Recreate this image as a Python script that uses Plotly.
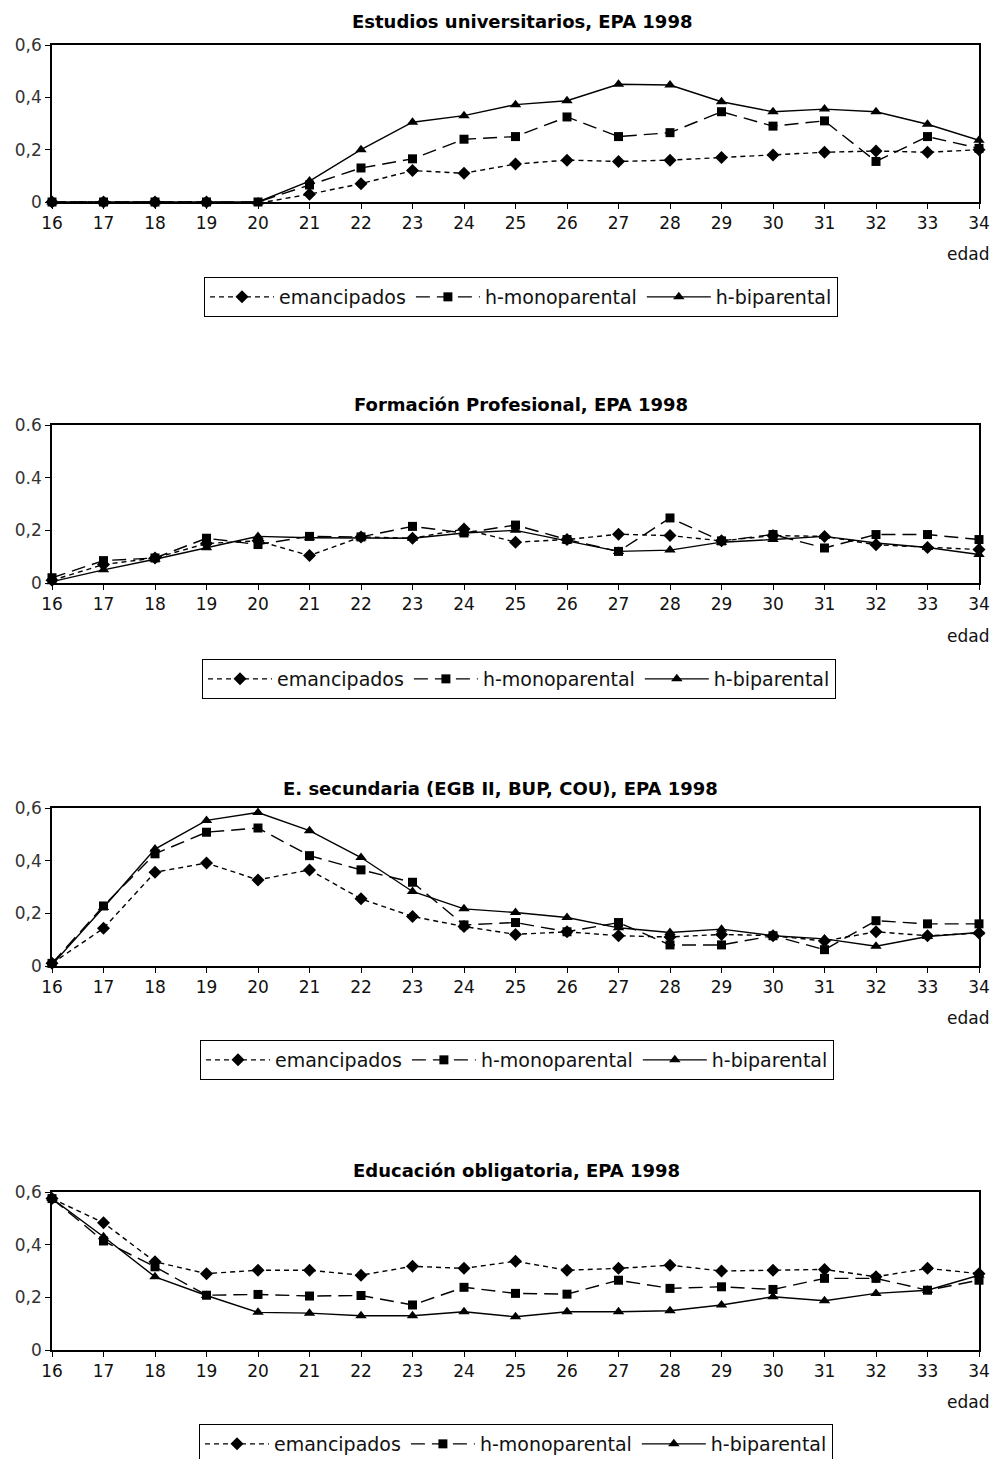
import plotly.graph_objects as go

# Edades (eje horizontal)
edades = list(range(16, 35))

series_nombres = ["emancipados", "h-monoparental", "h-biparental"]

titulos = [
    "Estudios universitarios, EPA 1998",
    "Formación Profesional, EPA 1998",
    "E. secundaria (EGB II, BUP, COU), EPA 1998",
    "Educación obligatoria, EPA 1998",
]

# Estudios universitarios
univ_emancipados = [0, 0, 0, 0, -0.005, 0.03, 0.07, 0.12, 0.11, 0.145, 0.16, 0.155, 0.16,
                    0.17, 0.18, 0.19, 0.195, 0.19, 0.20]
univ_monoparental = [0, 0, 0, 0, 0, 0.065, 0.13, 0.165, 0.24, 0.25, 0.325, 0.25, 0.265,
                     0.345, 0.29, 0.31, 0.155, 0.25, 0.205]
univ_biparental = [0, 0, 0, 0, 0, 0.08, 0.20, 0.305, 0.33, 0.372, 0.387, 0.45, 0.447,
                   0.383, 0.345, 0.355, 0.345, 0.297, 0.236]

# Formación Profesional
fp_emancipados = [0.01, 0.07, 0.095, 0.15, 0.16, 0.104, 0.175, 0.17, 0.205, 0.155, 0.165,
                  0.185, 0.18, 0.16, 0.18, 0.177, 0.145, 0.135, 0.127]
fp_monoparental = [0.02, 0.085, 0.095, 0.17, 0.146, 0.177, 0.175, 0.215, 0.19, 0.22, 0.165,
                   0.12, 0.247, 0.16, 0.184, 0.133, 0.184, 0.184, 0.165]
fp_biparental = [0.005, 0.05, 0.09, 0.134, 0.177, 0.172, 0.172, 0.17, 0.19, 0.2, 0.16,
                 0.12, 0.125, 0.155, 0.165, 0.177, 0.152, 0.135, 0.108]

# E. secundaria (EGB II, BUP, COU)
sec_emancipados = [0.01, 0.143, 0.356, 0.391, 0.327, 0.365, 0.255, 0.188, 0.15, 0.12,
                   0.13, 0.115, 0.11, 0.12, 0.115, 0.095, 0.13, 0.115, 0.125]
sec_monoparental = [0.01, 0.228, 0.426, 0.508, 0.524, 0.419, 0.365, 0.318, 0.156, 0.165,
                    0.13, 0.165, 0.08, 0.08, 0.115, 0.062, 0.172, 0.16, 0.16]
sec_biparental = [0.005, 0.222, 0.444, 0.553, 0.583, 0.514, 0.412, 0.283, 0.217, 0.203,
                  0.184, 0.145, 0.127, 0.14, 0.115, 0.103, 0.075, 0.112, 0.127]

# Educación obligatoria
obl_emancipados = [0.575, 0.483, 0.335, 0.29, 0.303, 0.303, 0.284, 0.318, 0.31, 0.337,
                   0.303, 0.31, 0.322, 0.3, 0.303, 0.306, 0.278, 0.31, 0.29]
obl_monoparental = [0.575, 0.414, 0.316, 0.208, 0.211, 0.205, 0.207, 0.171, 0.238, 0.215,
                    0.212, 0.265, 0.234, 0.24, 0.23, 0.272, 0.272, 0.227, 0.265]
obl_biparental = [0.575, 0.43, 0.278, 0.207, 0.143, 0.14, 0.13, 0.13, 0.145, 0.126,
                  0.145, 0.145, 0.149, 0.171, 0.202, 0.187, 0.215, 0.227, 0.284]

paneles = [
    (univ_emancipados, univ_monoparental, univ_biparental),
    (fp_emancipados, fp_monoparental, fp_biparental),
    (sec_emancipados, sec_monoparental, sec_biparental),
    (obl_emancipados, obl_monoparental, obl_biparental),
]

ytick_vals = [0, 0.2, 0.4, 0.6]
ytick_textos = [
    ["0", "0,2", "0,4", "0,6"],
    ["0", "0,2", "0.4", "0.6"],
    ["0", "0,2", "0,4", "0,6"],
    ["0", "0,2", "0,4", "0,6"],
]

W, H = 996, 1459
# Posiciones en píxeles de cada panel (arriba, abajo), título, "edad" y leyenda
bloques = [
    dict(top=45, bottom=202, title_y=21, title_x=522, edad_y=254, leg_x=521, leg_y=277),
    dict(top=425, bottom=583, title_y=404, title_x=521, edad_y=636, leg_x=519, leg_y=659),
    dict(top=808, bottom=966, title_y=788, title_x=500, edad_y=1018, leg_x=517, leg_y=1040),
    dict(top=1192, bottom=1350, title_y=1170, title_x=516, edad_y=1402, leg_x=516, leg_y=1424),
]
x_izq, x_der = 52, 979

estilos = [
    dict(dash="5px,4px", symbol="diamond", size=10),
    dict(dash="14px,7px", symbol="square", size=9),
    dict(dash="solid", symbol="triangle-up", size=10),
]

FUENTE = "DejaVu Sans, Arial, sans-serif"

fig = go.Figure()
layout = dict(
    width=W, height=H,
    margin=dict(l=0, r=0, t=0, b=0, autoexpand=False),
    paper_bgcolor="white", plot_bgcolor="white",
    font=dict(family=FUENTE, color="#111"),
    annotations=[],
)

for i, (datos, b) in enumerate(zip(paneles, bloques)):
    n = "" if i == 0 else str(i + 1)
    leg = "legend" + n
    for nombre, valores, est in zip(series_nombres, datos, estilos):
        fig.add_trace(go.Scatter(
            x=edades, y=valores, name=nombre, mode="lines+markers",
            xaxis="x" + n, yaxis="y" + n, legend=leg,
            line=dict(color="black", width=1.4, dash=est["dash"]),
            marker=dict(symbol=est["symbol"], size=est["size"], color="black"),
            cliponaxis=False,
        ))
    y0 = 1 - b["bottom"] / H
    y1 = 1 - b["top"] / H
    layout["xaxis" + n] = dict(
        domain=[x_izq / W, x_der / W], anchor="y" + n, range=[16, 34],
        tickmode="array", tickvals=edades, ticktext=[str(e) for e in edades],
        ticks="outside", ticklen=5, tickcolor="black", automargin=False,
        showline=True, linecolor="black", linewidth=2, mirror=True,
        showgrid=False, zeroline=False,
        tickfont=dict(size=17, color="#111"),
    )
    layout["yaxis" + n] = dict(
        domain=[y0, y1], anchor="x" + n, range=[0, 0.6],
        tickmode="array", tickvals=ytick_vals, ticktext=ytick_textos[i],
        ticks="outside", ticklen=5, tickcolor="black", automargin=False,
        showline=True, linecolor="black", linewidth=1.5, mirror=True,
        showgrid=False, zeroline=False,
        tickfont=dict(size=17, color="#333"),
    )
    layout[leg] = dict(
        orientation="h", x=b["leg_x"] / W, xanchor="center",
        y=1 - b["leg_y"] / H, yanchor="top",
        bordercolor="black", borderwidth=1, bgcolor="white",
        font=dict(size=19, color="#111"), itemwidth=64,
    )
    layout["annotations"].append(dict(
        text="<b>" + titulos[i] + "</b>", xref="paper", yref="paper",
        x=b["title_x"] / W, y=1 - b["title_y"] / H, xanchor="center", yanchor="middle",
        showarrow=False, font=dict(size=18, color="black"),
    ))
    layout["annotations"].append(dict(
        text="edad", xref="paper", yref="paper",
        x=991 / W, y=1 - b["edad_y"] / H, xanchor="right", yanchor="middle",
        showarrow=False, font=dict(size=17, color="#111"),
    ))

fig.update_layout(**layout)
fig.write_html("out.html")
